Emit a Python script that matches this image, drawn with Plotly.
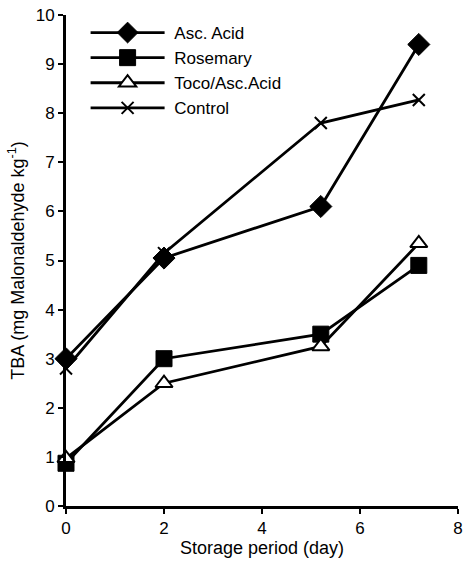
import plotly.graph_objects as go

days_a = [0, 2, 5.2, 7.2]
asc_acid = [3.0, 5.05, 6.1, 9.4]
rosemary = [0.87, 3.0, 3.5, 4.9]
toco_asc = [0.97, 2.5, 3.25, 5.35]
control = [2.8, 5.15, 7.8, 8.27]

names = ["Asc. Acid", "Rosemary", "Toco/Asc.Acid", "Control"]
x_ticks = [0, 2, 4, 6, 8]
y_ticks = list(range(0, 11))

FONT = "Liberation Sans, Arial"

fig = go.Figure()
styles = [
    dict(symbol="diamond", size=17, color="black", line=dict(color="black", width=1)),
    dict(symbol="square", size=16, color="black", line=dict(color="black", width=1)),
    dict(symbol="triangle-up", size=15, color="white", line=dict(color="black", width=2)),
    dict(symbol="x-thin", size=12, color="black", line=dict(color="black", width=2)),
]
for name, ys, st in zip(names, [asc_acid, rosemary, toco_asc, control], styles):
    fig.add_trace(go.Scatter(
        x=days_a, y=ys, name="\u00a0" + name, mode="lines+markers",
        line=dict(color="black", width=2.8),
        marker=st, cliponaxis=False,
    ))

axis_common = dict(
    showline=True, linecolor="black", linewidth=3,
    ticks="outside", ticklen=5, tickwidth=2, tickcolor="black",
    showgrid=False, zeroline=False,
    tickfont=dict(family=FONT, size=17, color="black"),
)
fig.update_xaxes(range=[0, 8], tickvals=x_ticks, **axis_common,
                 title=dict(text="Storage period (day)", standoff=3,
                            font=dict(family=FONT, size=18, color="black")))
fig.update_yaxes(range=[0, 10], tickvals=y_ticks, **axis_common,
                 title=dict(text="TBA (mg Malonaldehyde kg<sup>-1</sup>)", standoff=7,
                            font=dict(family=FONT, size=18, color="black")))

fig.update_layout(
    width=469, height=564,
    margin=dict(l=66, r=6, t=11, b=58),
    plot_bgcolor="white", paper_bgcolor="white",
    showlegend=True,
    legend=dict(x=0.05, y=1.0, xanchor="left", yanchor="top",
                font=dict(family=FONT, size=17, color="black"),
                bgcolor="rgba(0,0,0,0)", itemwidth=74, tracegroupgap=0),
)
fig.write_html("out.html")
